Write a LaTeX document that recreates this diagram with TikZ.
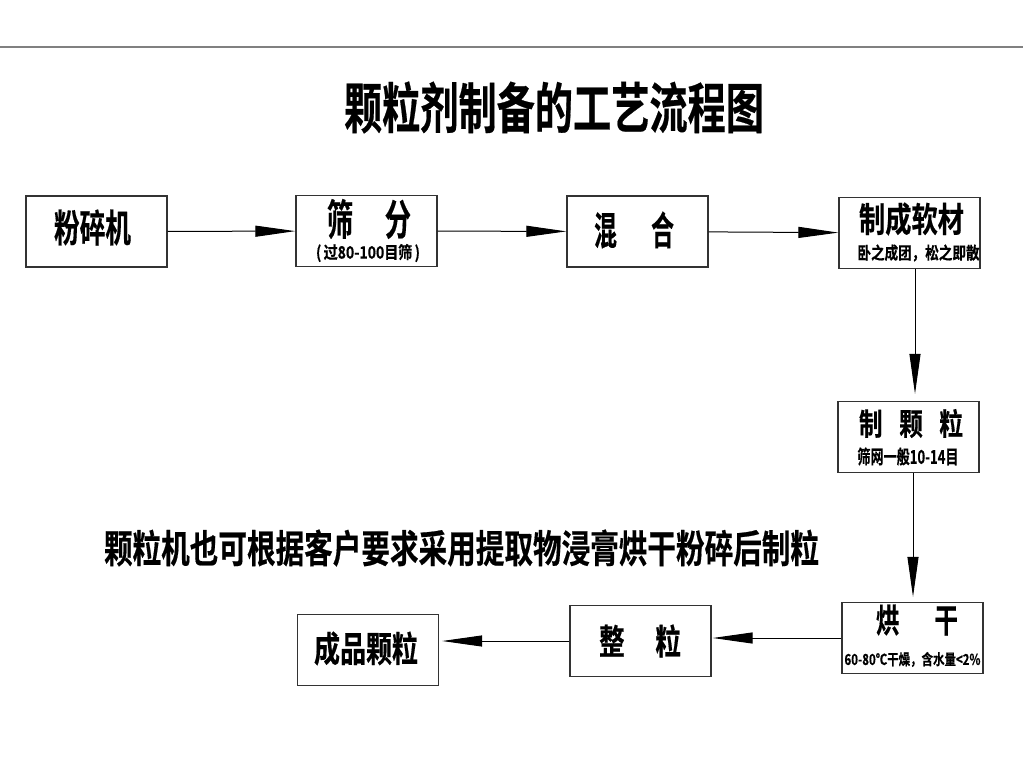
\documentclass[tikz,border=0pt]{standalone}
\usepackage{fontspec}
\usepackage{graphicx}
\usetikzlibrary{arrows.meta}
\newfontfamily\cjk[FakeBold=0.5]{Noto Sans CJK SC Bold}
\newcommand\fit[3]{\resizebox*{#1pt}{#2pt}{\cjk #3}}
\tikzset{
  box/.style={draw=black!80, line width=1.3pt, minimum width=141pt, minimum height=71pt, inner sep=0pt},
  txt/.style={inner sep=0pt, anchor=center},
  arr/.style={draw=black, line width=1pt, -{Triangle[length=40pt,width=11pt]}},
}
\begin{document}
\begin{tikzpicture}[x=1pt,y=-1pt]
\useasboundingbox (0,0) rectangle (1023,768);
\fill[white] (0,0) rectangle (1023,768);
\coordinate (L1) at (0,47);
\coordinate (L2) at (1023,47);
\draw[gray, line width=2pt] (L1) -- (L2);

\node[txt] (title) at (554,107.5) {\fit{420}{52}{颗粒剂制备的工艺流程图}};

% boxes
\node[box] (A) at (96.5,231.5) {};
\node[box] (B) at (366.5,231) {};
\node[box] (C) at (637.5,231.5) {};
\node[box] (D) at (909.5,233) {};
\node[box] (E) at (908.5,437) {};
\node[box] (F) at (912.5,638) {};
\node[box] (G) at (640.5,641) {};
\node[box] (H) at (368,650) {};

% texts
\node[txt] (tA) at (92.5,227.5) {\fit{77}{36}{粉碎机}};
\node[txt] (tB) at (369,219) {\fit{84}{40}{筛\hspace{1.2em}分}};
\node[txt] (sB) at (368,253) {\fit{104}{18}{(\,过80-100目筛\,)}};
\node[txt] (tC) at (634,230) {\fit{80}{37}{混\hspace{1.5em}合}};
\node[txt] (tD) at (911.5,219) {\fit{105}{33}{制成软材}};
\node[txt] (sD) at (918.5,253) {\fit{122}{17}{卧之成团，松之即散}};
\node[txt] (tE) at (911,423.5) {\fit{104}{29}{制\hspace{0.7em}颗\hspace{0.7em}粒}};
\node[txt] (sE) at (908,456.5) {\fit{101}{18}{筛网一般10-14目}};
\node[txt] (tF) at (917,620) {\fit{82}{31}{烘\hspace{1.5em}干}};
\node[txt] (sF) at (912.5,659.5) {\fit{136}{15}{60-80℃干燥，含水量<2\%}};
\node[txt] (tG) at (640,641) {\fit{82}{33}{整\hspace{1.2em}粒}};
\node[txt] (tH) at (366,648.5) {\fit{104}{34}{成品颗粒}};

\node[txt] (note) at (461.5,548) {\fit{715}{37}{颗粒机也可根据客户要求采用提取物浸膏烘干粉碎后制粒}};

% connectors
\draw[arr] (A) -- (B);
\draw[arr] (B) -- (C);
\draw[arr] (C) -- (D);
\draw[arr, shorten >=7pt] ([xshift=5.5pt]D.south) -- ([xshift=5.5pt]D.south |- E.north);
\draw[arr, shorten >=5pt] ([xshift=4.5pt]E.south) -- ([xshift=4.5pt]E.south |- F.north);
\draw[arr, shorten >=1pt] (F.west) -- (F.west -| G.east);
\draw[arr, shorten >=3pt] (G.west) -- (G.west -| H.east);
\end{tikzpicture}
\end{document}
